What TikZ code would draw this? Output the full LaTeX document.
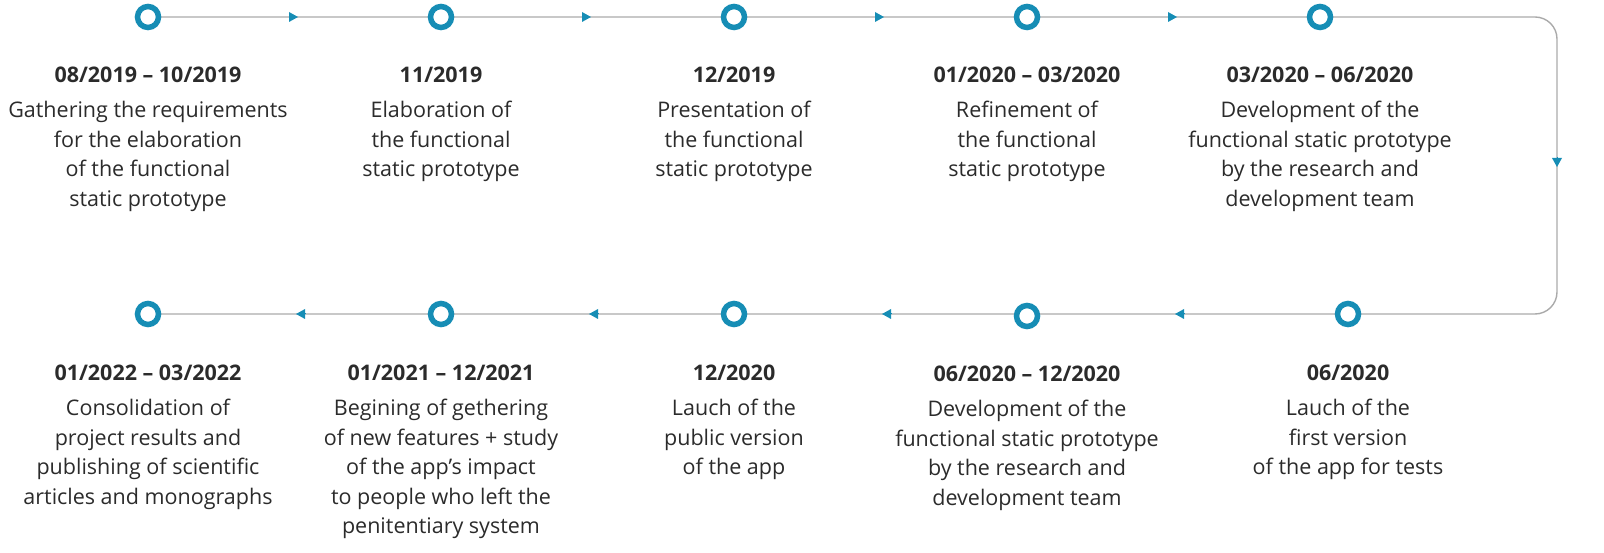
\documentclass[tikz,border=0pt]{standalone}
\usepackage{fontspec}
\setmainfont{Open Sans}
\usetikzlibrary{arrows.meta}
\definecolor{tlblue}{HTML}{168DB5}
\definecolor{tlgray}{HTML}{AAAAAA}
\definecolor{tltext}{HTML}{2B2B2B}
\begin{document}
\begin{tikzpicture}[x=1pt,y=-1pt]
    \tikzstyle{milestone} = [circle, draw=tlblue, line width=5.5pt, fill=white, minimum size=21pt, inner sep=0pt]
    \tikzstyle{stage} = [align=center, text=tltext, font=\fontsize{21.5}{29.5}\selectfont, anchor=north]
    \tikzstyle{pointer} = [-{Triangle[length=9pt,width=10pt]}, tlblue, line width=0pt]
    \useasboundingbox (0,0) rectangle (1604,553);
    % gray track
    \draw[tlgray, line width=1.4pt, rounded corners=22pt] (148,17) -- (1557,17) -- (1557,314) -- (148,314);
    % direction marks
    \foreach \x in {297,590,883,1176}{
        \draw[pointer] (\x-8,17) -- (\x+1,17);
        \draw[pointer] (\x+8,314) -- (\x-1,314);
    }
    \draw[pointer] (1557,158) -- (1557,167);
    % top row
    \node[milestone] (m1) at (148,17) {};
    \node[milestone] (m2) at (441,17) {};
    \node[milestone] (m3) at (734,17) {};
    \node[milestone] (m4) at (1027,17) {};
    \node[milestone] (m5) at (1320,17) {};
    \node[stage] (t1) at (148,63) {\textbf{08/2019 – 10/2019}\\[6pt]Gathering the requirements\\for the elaboration\\of the functional\\static prototype};
    \node[stage] (t2) at (441,63) {\textbf{11/2019}\\[6pt]Elaboration of\\the functional\\static prototype};
    \node[stage] (t3) at (734,63) {\textbf{12/2019}\\[6pt]Presentation of\\the functional\\static prototype};
    \node[stage] (t4) at (1027,63) {\textbf{01/2020 – 03/2020}\\[6pt]Refinement of\\the functional\\static prototype};
    \node[stage] (t5) at (1320,63) {\textbf{03/2020 – 06/2020}\\[6pt]Development of the\\functional static prototype\\by the research and\\development team};
    % bottom row
    \node[milestone] (m6) at (1348,314) {};
    \node[milestone] (m7) at (1027,316) {};
    \node[milestone] (m8) at (734,314) {};
    \node[milestone] (m9) at (441,314) {};
    \node[milestone] (m10) at (148,314) {};
    \node[stage] (t6) at (1348,361) {\textbf{06/2020}\\[6pt]Lauch of the\\first version\\of the app for tests};
    \node[stage] (t7) at (1027,362) {\textbf{06/2020 – 12/2020}\\[6pt]Development of the\\functional static prototype\\by the research and\\development team};
    \node[stage] (t8) at (734,361) {\textbf{12/2020}\\[6pt]Lauch of the\\public version\\of the app};
    \node[stage] (t9) at (441,361) {\textbf{01/2021 – 12/2021}\\[6pt]Begining of gethering\\of new features + study\\of the app’s impact\\to people who left the\\penitentiary system};
    \node[stage] (t10) at (148,361) {\textbf{01/2022 – 03/2022}\\[6pt]Consolidation of\\project results and\\publishing of scientific\\articles and monographs};
\end{tikzpicture}
\end{document}
